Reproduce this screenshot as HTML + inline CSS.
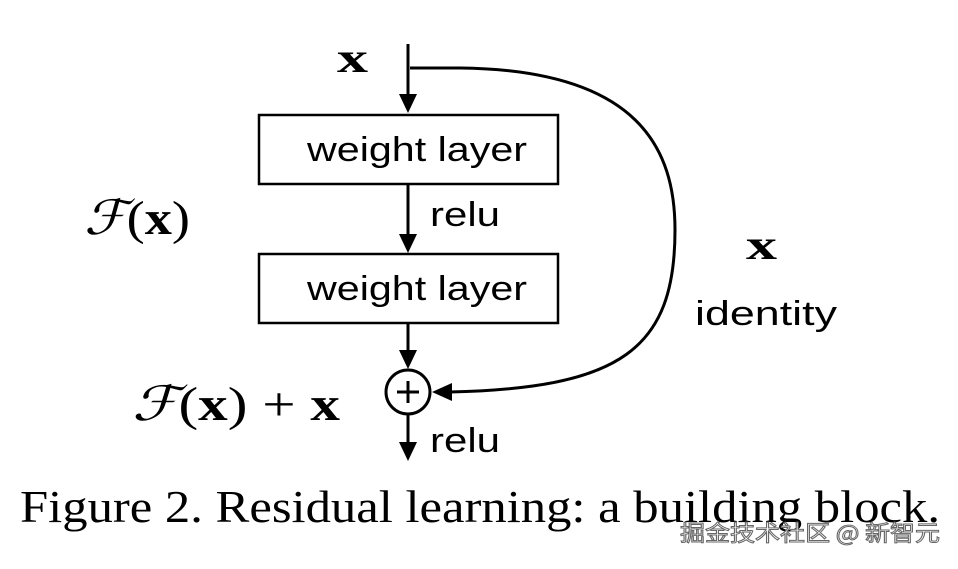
<!DOCTYPE html>
<html><head><style>
body{margin:0;background:#fff;width:958px;height:564px;overflow:hidden}
</style></head><body>
<svg width="958" height="564" xmlns="http://www.w3.org/2000/svg">
<g stroke="#000" stroke-width="3" fill="none">
<line x1="408" y1="44" x2="408" y2="96"/>
<path d="M399,94 L417,94 L408,113 z" fill="#000" stroke="none"/>
<rect x="259" y="115" width="299" height="69" stroke-width="2.5"/>
<line x1="408" y1="184" x2="408" y2="236"/>
<path d="M399,234 L417,234 L408,253 z" fill="#000" stroke="none"/>
<rect x="259" y="254" width="299" height="69" stroke-width="2.5"/>
<line x1="408" y1="323" x2="408" y2="352"/>
<path d="M399,350 L417,350 L408,369 z" fill="#000" stroke="none"/>
<circle cx="408" cy="392" r="22"/>
<line x1="408" y1="381" x2="408" y2="403"/>
<line x1="397" y1="392" x2="419" y2="392"/>
<line x1="408" y1="414" x2="408" y2="444"/>
<path d="M399,442 L417,442 L408,461 z" fill="#000" stroke="none"/>
<path d="M410,68 L460,68 C640,70 675,150 675,230 C675,350 620,388 450,392"/>
<path d="M452,383 L452,401 L432,392 z" fill="#000" stroke="none"/>
</g>
<g font-family="Liberation Sans, sans-serif" font-size="34" fill="#000" lengthAdjust="spacingAndGlyphs">
<text x="307" y="161" textLength="220" lengthAdjust="spacingAndGlyphs">weight layer</text>
<text x="307" y="300" textLength="220" lengthAdjust="spacingAndGlyphs">weight layer</text>
<text x="430" y="226" textLength="70" lengthAdjust="spacingAndGlyphs">relu</text>
<text x="430" y="452" textLength="70" lengthAdjust="spacingAndGlyphs">relu</text>
<text x="695" y="325" textLength="142" lengthAdjust="spacingAndGlyphs">identity</text>
</g>
<g font-family="Liberation Serif, serif" fill="#000">
<text x="337" y="72" font-size="42" font-weight="bold" textLength="31" lengthAdjust="spacingAndGlyphs">x</text>
<text x="746" y="259" font-size="42" font-weight="bold" textLength="31" lengthAdjust="spacingAndGlyphs">x</text>
<text x="84" y="234" font-size="48" font-style="italic" textLength="106" lengthAdjust="spacingAndGlyphs">ℱ<tspan font-style="normal">(</tspan><tspan font-weight="bold" font-style="normal">x</tspan><tspan font-style="normal">)</tspan></text>
<text x="132" y="420" font-size="48" font-style="italic" textLength="208" lengthAdjust="spacingAndGlyphs">ℱ<tspan font-style="normal">(</tspan><tspan font-weight="bold" font-style="normal">x</tspan><tspan font-style="normal">) + </tspan><tspan font-weight="bold" font-style="normal">x</tspan></text>
<text x="20" y="522" font-size="46" textLength="920" lengthAdjust="spacingAndGlyphs">Figure 2. Residual learning: a building block.</text>
</g>
<text x="680" y="541" font-family="Noto Sans CJK SC, sans-serif" font-size="22" fill="#fff" stroke="#666" stroke-width="1" textLength="260" lengthAdjust="spacingAndGlyphs">掘金技术社区 @ 新智元</text>
</svg>
</body></html>
